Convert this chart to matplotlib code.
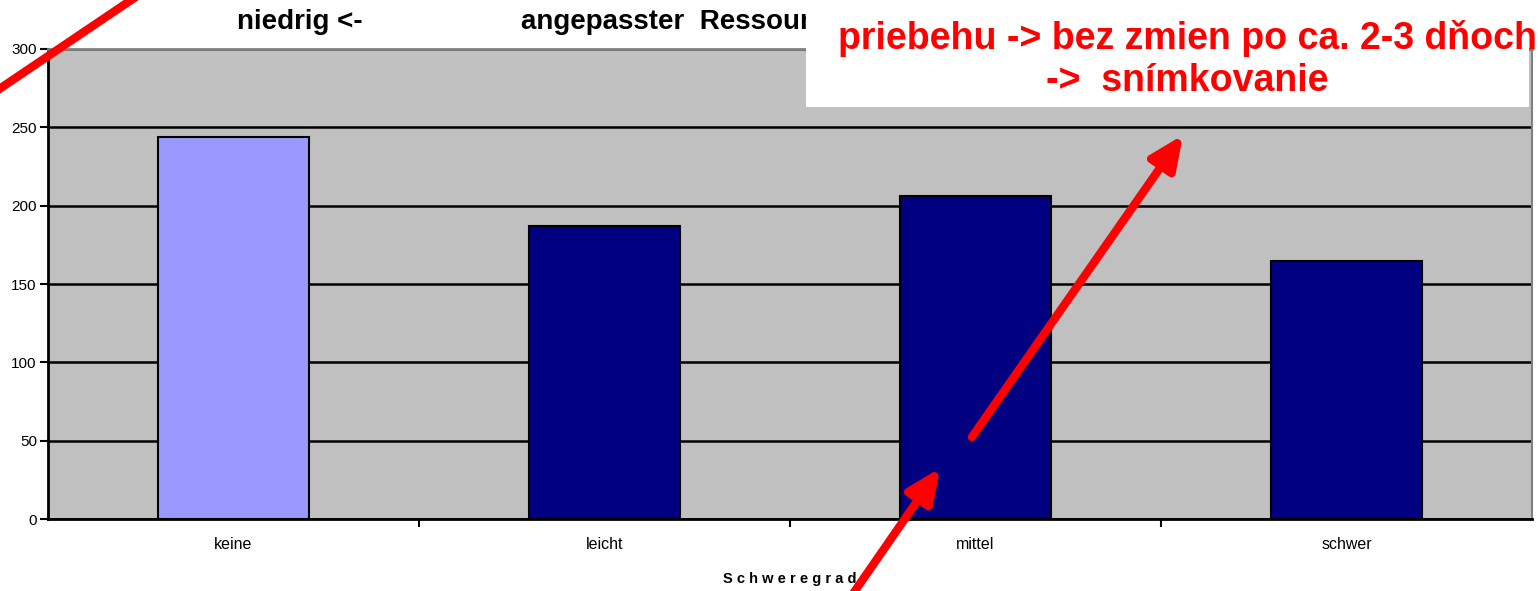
import matplotlib.pyplot as plt
from matplotlib.patches import Rectangle

plt.rcParams['font.family'] = ['Liberation Sans', 'DejaVu Sans']

# Schweregrad categories and bar heights
categories = ['keine', 'leicht', 'mittel', 'schwer']
values = [244, 187, 206, 165]
bar_colors = ['#9999FF', '#000080', '#000080', '#000080']
yticks = [0, 50, 100, 150, 200, 250, 300]

red_lines = ['priebehu -> bez zmien po ca. 2-3 dňoch', '->  snímkovanie']

fig = plt.figure(figsize=(15.38, 5.91), dpi=100)
ax = fig.add_axes([0.0312, 0.1218, 0.9649, 0.7953])
ax.set_facecolor('#C0C0C0')

x = range(len(categories))
ax.bar(x, values, width=0.405, color=bar_colors, edgecolor='black',
       linewidth=1.5, zorder=3)

ax.set_xlim(-0.5, len(categories) - 0.5)
ax.set_ylim(0, 300)
ax.set_yticks(yticks)
ax.tick_params(axis='y', labelsize=11, length=6, width=1.5, pad=2)
ax.set_xticks([i + 0.5 for i in range(len(categories) - 1)])
ax.set_xticklabels([])
ax.tick_params(axis='x', length=6, width=1.5)
for i, c in enumerate(categories):
    ax.text(i, -16, c, ha='center', va='center', fontsize=11.5)
ax.text(1.5, -38, 'S c h w e r e g r a d', ha='center', va='center',
        fontsize=10.5, fontweight='bold')

ax.grid(axis='y', color='black', linewidth=1.8, zorder=1)
ax.set_axisbelow(True)
for side in ['left', 'bottom']:
    ax.spines[side].set_linewidth(2)
ax.spines['top'].set_color('#808080')
ax.spines['top'].set_linewidth(2)
ax.spines['right'].set_color('#808080')
ax.spines['right'].set_linewidth(1.5)

# heading above the plot area
fig.text(0.195, 0.963, 'niedrig <-', ha='center', va='center', fontsize=20,
         fontweight='bold')
fig.text(0.339, 0.963, 'angepasster  Ressourcen', ha='left', va='center',
         fontsize=20, fontweight='bold')

# white note box with red text
fig.patches.append(Rectangle((0.524, 0.819), 0.47, 0.2, transform=fig.transFigure,
                             facecolor='white', edgecolor='none', zorder=5))
fig.text(0.772, 0.935, red_lines[0], ha='center', va='center', fontsize=27,
         fontweight='bold', color='red', zorder=6)
fig.text(0.772, 0.863, red_lines[1], ha='center', va='center', fontsize=27,
         fontweight='bold', color='red', zorder=6)

# red arrows drawn over the chart
arrow = dict(arrowstyle='-|>,head_length=2.0,head_width=0.9', color='red',
             linewidth=6, shrinkA=0, shrinkB=0)
fig.add_artist(plt.Line2D([-0.003, 0.091], [0.845, 1.01], color='red',
                          linewidth=6, zorder=7))
ax.annotate('', xy=(0.7692, 0.7716), xytext=(0.632, 0.2606),
            xycoords='figure fraction', textcoords='figure fraction',
            arrowprops=arrow, zorder=7, annotation_clip=False)
ax.annotate('', xy=(0.6112, 0.2081), xytext=(0.5505, -0.02),
            xycoords='figure fraction', textcoords='figure fraction',
            arrowprops=arrow, zorder=7, annotation_clip=False)

fig.savefig('out.png', dpi=100)
